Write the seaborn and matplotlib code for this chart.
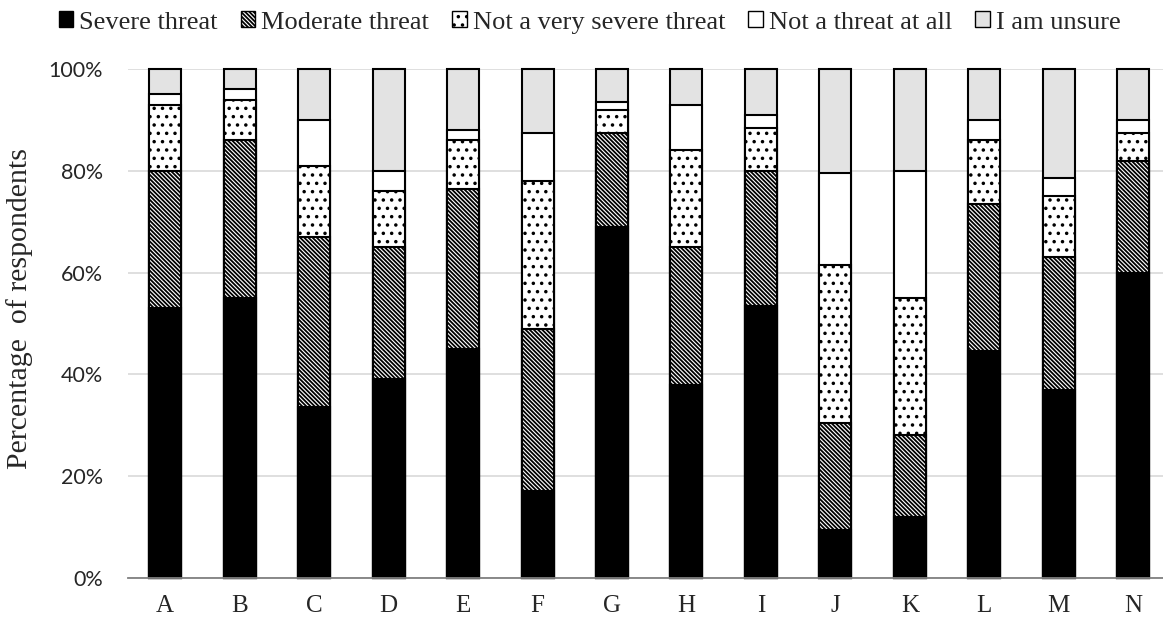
# Percentage of respondents by threat level, stacked bars (A..N)
import numpy as np
import pandas as pd
import matplotlib.pyplot as plt
from matplotlib.patches import Patch
import seaborn as sns

itens = list("ABCDEFGHIJKLMN")
severe = [53, 55, 33.5, 39, 45, 17, 69, 38, 53.5, 9.5, 12, 44.5, 37, 60]
moderate = [27, 31, 33.5, 26, 31.5, 32, 18.5, 27, 26.5, 21, 16, 29, 26, 22]
not_very = [13, 8, 14, 11, 9.5, 29, 4.5, 19, 8.5, 31, 27, 12.5, 12, 5.5]
not_at_all = [2, 2, 9, 4, 2, 9.5, 1.5, 9, 2.5, 18, 25, 4, 3.5, 2.5]
unsure = [5, 4, 10, 20, 12, 12.5, 6.5, 7, 9, 20.5, 20, 10, 21.5, 10]

categorias = ["Severe threat", "Moderate threat", "Not a very severe threat",
              "Not a threat at all", "I am unsure"]
valores = [severe, moderate, not_very, not_at_all, unsure]
cores = ["black", "white", "white", "white", "#e3e3e3"]
hachuras = ["", "\\" * 8, "..", "", ""]

# tabela com os totais acumulados
df = pd.DataFrame({"Item": itens})
acum = np.zeros(len(itens))
for cat, v in zip(categorias, valores):
    acum = acum + np.array(v)
    df[cat] = acum

sns.set_style("white")
plt.rcParams["font.family"] = ["Liberation Serif", "DejaVu Serif"]
plt.rcParams["hatch.linewidth"] = 1.3

fig = plt.figure(figsize=(11.63, 6.23), dpi=100)
ax = fig.add_axes([128 / 1163, 45 / 623, 1035 / 1163, 509 / 623])

# barras sobrepostas: do maior acumulado para o menor
for cat, cor, hat in reversed(list(zip(categorias, cores, hachuras))):
    sns.barplot(data=df, x="Item", y=cat, order=itens, color=cor, hatch=hat,
                edgecolor="black", linewidth=1.5, width=0.43, errorbar=None,
                saturation=1, ax=ax, clip_on=False)

ax.set_xlim(-0.5, 13.4)
ax.set_ylim(0, 100)
ax.set_yticks(range(0, 101, 20))
ax.set_yticklabels([f"{v}%" for v in range(0, 101, 20)], family="Lato", fontsize=15.5)
ax.set_xticks(range(len(itens)))
ax.set_xticklabels(itens, fontsize=18)
ax.tick_params(axis="y", length=0, pad=18)
ax.tick_params(axis="x", length=0, pad=12)
ax.set_xlabel("")
ax.set_ylabel("Percentage  of respondents", fontsize=21.5)
ax.yaxis.set_label_coords(-0.092, 0.53)

ax.yaxis.grid(True, color="#d9d9d9", linewidth=1.2)
ax.set_axisbelow(True)
for lado in ["left", "top", "right"]:
    ax.spines[lado].set_visible(False)
ax.spines["bottom"].set_color("#808080")
ax.spines["bottom"].set_linewidth(1.3)

handles = [Patch(facecolor=c, edgecolor="black", hatch=h, linewidth=1)
           for c, h in zip(cores, hachuras)]
fig.legend(handles, categorias, loc="upper center", bbox_to_anchor=(0.507, 1.02),
           ncol=5, frameon=False, prop={"family": "Liberation Serif", "size": 19},
           handlelength=0.55, handleheight=0.55, handletextpad=0.23,
           columnspacing=0.87)

plt.savefig("out.png", dpi=100)
